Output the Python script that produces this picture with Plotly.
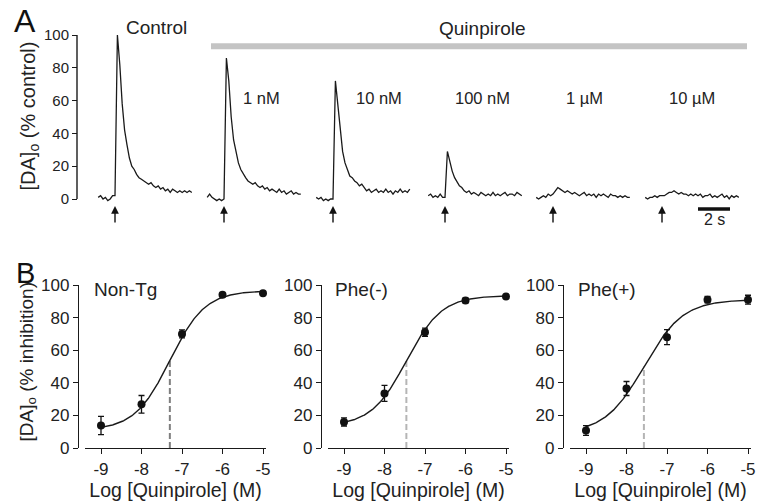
import numpy as np
import plotly.graph_objects as go

W, H = 758, 502

# ---------------- Panel A: evoked [DA]o traces (% control) ----------------
sample_dt = 0.15   # seconds between samples
n_pre = 7          # samples before the stimulus
trace_labels = ["Control", "1 nM", "10 nM", "100 nM", "1 µM", "10 µM"]

control = [1, 2, 0, 1, -1, 0, 2, 2,
           100, 82, 58, 42, 33, 25, 20, 18, 15, 13,
           12, 11, 10, 9, 10, 8, 7, 8, 6, 7,
           5, 6, 4, 6, 5, 4, 5, 4, 5, 4, 5, 4]
q_1nM = [1, 3, 1, 0, -1, 0, -1, 0,
         86, 72, 50, 36, 28, 22, 18, 15, 13, 11,
         10, 9, 10, 8, 7, 8, 6, 7, 5, 6,
         5, 4, 6, 4, 5, 3, 4, 5, 3, 4, 3, 3]
q_10nM = [1, 0, 1, -1, 0, -1, 0, 0,
          72, 58, 40, 29, 22, 18, 14, 13, 11, 10,
          8, 9, 7, 5, 6, 4, 5, 6, 4, 5,
          4, 6, 4, 5, 3, 5, 4, 6, 4, 5, 4, 6]
q_100nM = [2, 3, 1, 2, 1, 3, 1, 1,
           29, 22, 17, 13, 10, 8, 7, 5, 4, 5,
           3, 4, 3, 2, 4, 3, 2, 3, 2, 4,
           2, 3, 2, 3, 4, 2, 3, 3, 2, 4, 3, 2]
q_1uM = [1, 0, 1, 2, 1, 3, 2, 3,
         5, 7, 6, 5, 4, 5, 4, 3, 4, 3,
         2, 3, 4, 2, 3, 2, 3, 1, 3, 2,
         3, 2, 1, 3, 2, 2, 1, 2, 1, 2, 1, 1]
q_10uM = [1, 0, 1, 1, 2, 1, 2, 2,
          2, 3, 4, 4, 5, 4, 3, 4, 3, 3,
          2, 3, 2, 3, 2, 3, 1, 2, 2, 3,
          1, 2, 1, 2, 3, 1, 2, 0, 2, 1, 2, 1]
traces_A = [control, q_1nM, q_10nM, q_100nM, q_1uM, q_10uM]
y_ticks_A = [0, 20, 40, 60, 80, 100]

# ---------------- Panel B: concentration-response ----------------
log_conc = [-9, -8, -7, -6, -5]
x_tick_text = ["-9", "-8", "-7", "-6", "-5"]
y_ticks_B = [0, 20, 40, 60, 80, 100]
group_names = ["Non-Tg", "Phe(-)", "Phe(+)"]
nontg_mean = [13.8, 26.8, 70, 94, 95]
nontg_sem = [5.6, 5.4, 2.5, 1.2, 0.8]
phem_mean = [16, 33.5, 71, 90.5, 92.9]
phem_sem = [2.5, 4.9, 2.5, 1.5, 0.5]
phep_mean = [10.7, 36.5, 68, 91, 91]
phep_sem = [3, 4.3, 4.6, 2, 2.7]
# four-parameter logistic fits: bottom, top, logIC50, Hill slope
fit_bottom = [11, 13.5, 9]
fit_top = [96.5, 93.5, 91]
fit_logic50 = [-7.30, -7.46, -7.57]
fit_hill = [1.0, 1.0, 0.9]
means_B = [nontg_mean, phem_mean, phep_mean]
sems_B = [nontg_sem, phem_sem, phep_sem]

# ---------------- layout constants (pixels) ----------------
PX_PER_S = 16.0
stim_px = [115, 224, 333, 445, 553, 662]
ylabel_px_A = 77
ya0_px, ya100_px = 199, 35
yb0_px, yb100_px = 448, 285
xb_start_px = [85, 328, 570]
xb_ppu = 40.5
dash_colors = ["#7f7f7f", "#b5b5b5", "#b5b5b5"]

FONT = "Liberation Sans, Arial, Helvetica, sans-serif"
TXT = "#222222"
LINE = "#1a1a1a"

fig = go.Figure()

# Panel A traces
for i, vals in enumerate(traces_A):
    t0 = stim_px[i] / PX_PER_S
    t = t0 + (np.arange(len(vals)) - n_pre) * sample_dt
    fig.add_trace(go.Scatter(x=t, y=vals, mode="lines",
                             line=dict(color=LINE, width=1.3),
                             xaxis="x", yaxis="y", hoverinfo="skip",
                             showlegend=False))

# Panel B
xfine = np.linspace(-9, -5, 200)
for k in range(3):
    xa = "x%d" % (k + 2)
    ya = "y%d" % (k + 2)
    b, top, c, h = fit_bottom[k], fit_top[k], fit_logic50[k], fit_hill[k]
    curve = b + (top - b) / (1 + 10 ** ((c - xfine) * h))
    mid = b + (top - b) / 2
    fig.add_trace(go.Scatter(x=[c, c], y=[0, mid], mode="lines",
                             line=dict(color=dash_colors[k], width=2, dash="6px,3px"),
                             xaxis=xa, yaxis=ya, hoverinfo="skip", showlegend=False))
    fig.add_trace(go.Scatter(x=xfine, y=curve, mode="lines",
                             line=dict(color=LINE, width=1.4),
                             xaxis=xa, yaxis=ya, hoverinfo="skip", showlegend=False))
    fig.add_trace(go.Scatter(x=log_conc, y=means_B[k], mode="markers",
                             marker=dict(color="#111111", size=8),
                             error_y=dict(type="data", array=sems_B[k], visible=True,
                                          color="#111111", thickness=1.3, width=3),
                             cliponaxis=False,
                             xaxis=xa, yaxis=ya, hoverinfo="skip", showlegend=False))

def fy(px):
    return 1 - px / H

def fx(px):
    return px / W

# Panel A axes
ppu_A = (ya0_px - ya100_px) / 100.0
yA_lo, yA_hi = -5, 105
layout = dict(
    width=W, height=H,
    margin=dict(l=0, r=0, t=0, b=0),
    paper_bgcolor="white", plot_bgcolor="rgba(0,0,0,0)",
    font=dict(family=FONT, color=TXT, size=15),
    showlegend=False,
    xaxis=dict(domain=[0, 1], range=[0, W / PX_PER_S], visible=False,
               anchor="y", fixedrange=True),
    yaxis=dict(domain=[fy(ya0_px - yA_lo * ppu_A), fy(ya0_px - yA_hi * ppu_A)],
               range=[yA_lo, yA_hi], anchor="free", position=fx(ylabel_px_A),
               tickvals=y_ticks_A, ticks="outside", ticklen=5, tickwidth=1.3,
               tickcolor=LINE, showline=False, showgrid=False, zeroline=False,
               tickfont=dict(size=15, color=TXT), automargin=False, fixedrange=True),
)

xb_lo = -9 - 16 / xb_ppu
xb_hi = -5 + 3 / xb_ppu
for k in range(3):
    x0 = xb_start_px[k]
    x1 = x0 + (xb_hi - xb_lo) * xb_ppu
    layout["xaxis%d" % (k + 2)] = dict(
        domain=[fx(x0), fx(x1)], range=[xb_lo, xb_hi], anchor="y%d" % (k + 2),
        tickvals=log_conc, ticktext=x_tick_text, ticks="outside", ticklen=5,
        tickwidth=1.3, tickcolor=LINE, showline=True, linecolor=LINE, linewidth=1.4,
        showgrid=False, zeroline=False, tickfont=dict(size=17, color=TXT),
        automargin=False, fixedrange=True,
        title=dict(text="Log [Quinpirole] (M)", font=dict(size=19.5), standoff=2))
    layout["yaxis%d" % (k + 2)] = dict(
        domain=[fy(yb0_px), fy(yb100_px)], range=[0, 100], anchor="free",
        position=fx(x0 - 7), tickvals=y_ticks_B, ticks="outside", ticklen=5,
        tickwidth=1.3, tickcolor=LINE, showline=True, linecolor=LINE, linewidth=1.4,
        showgrid=False, zeroline=False, tickfont=dict(size=17, color=TXT),
        automargin=False, fixedrange=True)

fig.update_layout(**layout)

shapes = [
    # panel A y-axis line (0 to 100)
    dict(type="line", xref="paper", yref="y", x0=fx(ylabel_px_A), x1=fx(ylabel_px_A),
         y0=0, y1=100, line=dict(color=LINE, width=1.4)),
    # quinpirole application bar
    dict(type="line", xref="paper", yref="paper", x0=fx(211), x1=fx(747),
         y0=fy(46.3), y1=fy(46.3), line=dict(color="#c4c4c4", width=6)),
    # 2 s scale bar
    dict(type="line", xref="x", yref="paper", x0=698 / PX_PER_S, x1=698 / PX_PER_S + 2,
         y0=fy(209), y1=fy(209), line=dict(color="#111111", width=3.5)),
]
fig.update_layout(shapes=shapes)


def label(text, xp, yp, size, xanchor="center", color=TXT, angle=0):
    return dict(text=text, x=fx(xp), y=fy(yp), xref="paper", yref="paper",
                xanchor=xanchor, yanchor="middle", showarrow=False,
                textangle=angle, font=dict(size=size, color=color))


ann = []
ann.append(label("A", 12, 21.5, 32, "left", "#111111"))
ann.append(label("B", 14, 272.5, 29, "left", "#111111"))
ann.append(label("[DA]<sub>o</sub> (% control)", 28.5, 116, 20, "center", TXT, -90))
ann.append(label("[DA]<sub>o</sub> (% inhibition)", 27.5, 362, 19, "center", TXT, -90))
ann.append(label("Control", 156.5, 28, 19))
ann.append(label("Quinpirole", 482, 28.5, 19))
conc_px = [261, 379, 482, 584, 692]
for lbl, cx in zip(trace_labels[1:], conc_px):
    ann.append(label(lbl, cx, 97.5, 16.5))
for sp in stim_px:
    ann.append(dict(text=" ", x=sp / PX_PER_S, y=fy(206), xref="x", yref="paper",
                    showarrow=True, ax=0, ay=19, arrowhead=2, arrowsize=1.1,
                    arrowwidth=1.4, arrowcolor="#111111", standoff=0,
                    font=dict(size=2)))
ann.append(dict(text="2 s", x=(698 / PX_PER_S + 1), y=fy(219.5), xref="x", yref="paper",
                xanchor="center", yanchor="middle",
                showarrow=False, font=dict(size=16)))
name_px = [92, 333, 576]
for nm, lx in zip(group_names, name_px):
    ann.append(label(nm, lx, 289, 19, "left"))
fig.update_layout(annotations=ann)

fig.write_html("out.html", config={"displayModeBar": False},
               post_script="document.body.style.margin='0';document.body.style.padding='0';")
